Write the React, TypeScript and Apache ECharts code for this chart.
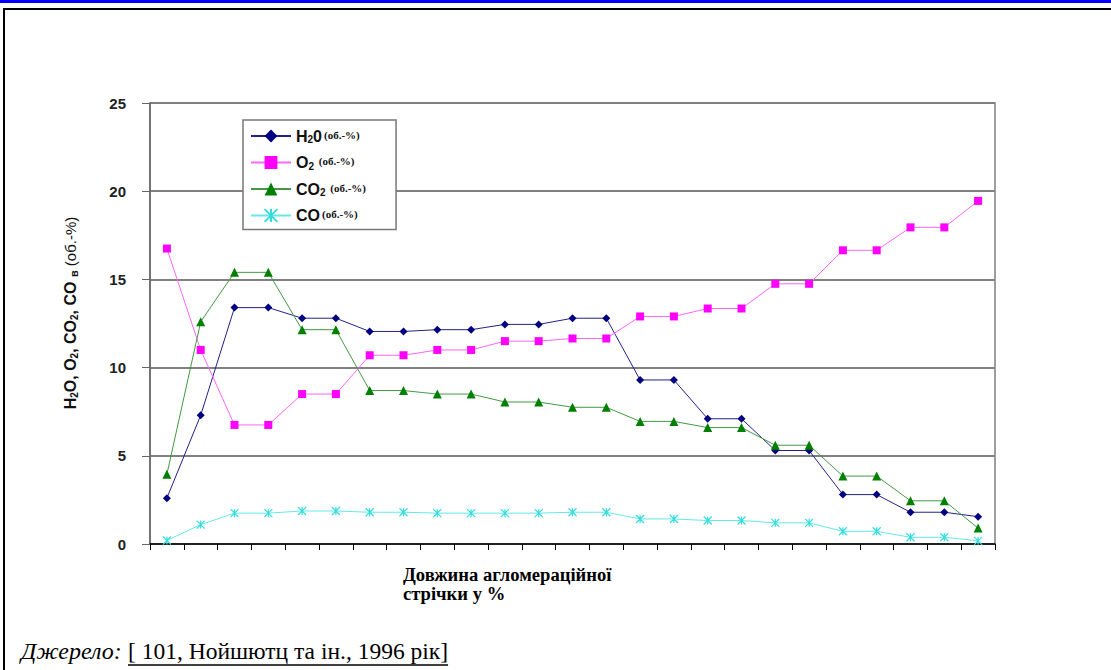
import React, { useEffect, useRef } from "react";
import * as echarts from "echarts";

const positions = ["1","2","3","4","5","6","7","8","9","10","11","12","13","14","15","16","17","18","19","20","21","22","23","24","25"];
const h2oValues = [2.6, 7.3, 13.4, 13.4, 12.8, 12.8, 12.05, 12.05, 12.15, 12.15, 12.45, 12.45, 12.8, 12.8, 9.3, 9.3, 7.1, 7.1, 5.3, 5.3, 2.8, 2.8, 1.8, 1.8, 1.55];
const o2Values = [16.75, 11.0, 6.75, 6.75, 8.5, 8.5, 10.7, 10.7, 11.0, 11.0, 11.5, 11.5, 11.65, 11.65, 12.9, 12.9, 13.35, 13.35, 14.75, 14.75, 16.65, 16.65, 17.95, 17.95, 19.45];
const co2Values = [3.95, 12.6, 15.4, 15.4, 12.15, 12.15, 8.7, 8.7, 8.5, 8.5, 8.05, 8.05, 7.75, 7.75, 6.95, 6.95, 6.6, 6.6, 5.6, 5.6, 3.85, 3.85, 2.45, 2.45, 0.9];
const coValues = [0.2, 1.1, 1.75, 1.75, 1.87, 1.87, 1.8, 1.8, 1.75, 1.75, 1.75, 1.75, 1.8, 1.8, 1.42, 1.42, 1.33, 1.33, 1.2, 1.2, 0.72, 0.72, 0.38, 0.38, 0.18];
const yTicks = { min: 0, max: 25, interval: 5 };

const legendLabels: Record<string, string> = {
  H2O: "{m|H}{s|2}{m|0}{u|(об.-%)}",
  O2: "{m|O}{s|2}{u| (об.-%)}",
  CO2: "{m|CO}{s|2}{u| (об.-%)}",
  CO: "{m|CO}{u|(об.-%)}",
};

const sourceLabel = "Джерело:";
const sourceRef = "[ 101, Нойшютц та ін., 1996 рік]";

const SERIF = "Liberation Serif, serif";
const SANS = "Liberation Sans";

export default function App() {
  const ref = useRef<HTMLDivElement>(null);
  useEffect(() => {
    if (!ref.current) return;
    const chart = echarts.init(ref.current, null, { renderer: "svg" });

    const refSize = 23.5;
    let refWidth = 314;
    try {
      const cv = document.createElement("canvas");
      const ctx = cv.getContext("2d");
      if (ctx) {
        ctx.font = `${refSize}px ${SERIF}`;
        refWidth = ctx.measureText(sourceRef).width;
      }
    } catch (e) {}

    const mkLine = (name: string, data: number[], color: string, lineColor: string, symbol: string, size: number) => ({
      name,
      type: "line",
      data,
      symbol,
      symbolSize: size,
      lineStyle: { color: lineColor, width: 1 },
      itemStyle: { color },
      emphasis: { disabled: true },
    });

    chart.setOption({
      animation: false,
      backgroundColor: "#ffffff",
      grid: {
        left: 150,
        top: 103,
        width: 845,
        height: 441,
        show: true,
        borderColor: "#808080",
        borderWidth: 1.5,
        backgroundColor: "transparent",
      },
      xAxis: {
        type: "category",
        data: positions,
        boundaryGap: true,
        axisLine: { lineStyle: { color: "#000", width: 1.5 } },
        axisTick: { show: true, interval: 0, length: 6, lineStyle: { color: "#000" } },
        axisLabel: { show: false },
        splitLine: { show: false },
      },
      yAxis: {
        type: "value",
        min: yTicks.min,
        max: yTicks.max,
        interval: yTicks.interval,
        axisLine: { show: true, lineStyle: { color: "#666", width: 1.5 } },
        axisTick: { show: true, length: 8, lineStyle: { color: "#666" } },
        axisLabel: {
          margin: 24,
          fontFamily: SANS,
          fontWeight: "bold",
          fontSize: 15,
          color: "#222",
        },
        splitLine: { lineStyle: { color: "#808080", width: 2 } },
      },
      legend: {
        orient: "vertical",
        left: 243,
        top: 120,
        width: 150,
        padding: [8, 30, 6, 7],
        itemGap: 10,
        itemWidth: 40,
        itemHeight: 16,
        backgroundColor: "#ffffff",
        borderColor: "#777",
        borderWidth: 1.5,
        borderRadius: 0,
        selectedMode: false,
        formatter: (name: string) => legendLabels[name] || name,
        textStyle: {
          rich: {
            m: { fontFamily: SANS, fontWeight: "bold", fontSize: 16, color: "#111", lineHeight: 17 },
            s: { fontFamily: SANS, fontWeight: "bold", fontSize: 10, color: "#111", verticalAlign: "bottom", lineHeight: 10 },
            u: { fontFamily: SERIF, fontWeight: "bold", fontSize: 11, color: "#111", padding: [0, 0, 3, 2] },
          },
        },
      },
      series: [
        mkLine("H2O", h2oValues, "#000080", "#222288", "diamond", 8),
        mkLine("O2", o2Values, "#ff00ff", "#ff66ff", "rect", 8),
        mkLine("CO2", co2Values, "#008000", "#449944", "triangle", 9),
        {
          name: "CO",
          type: "line",
          data: coValues,
          symbol: "path://M0,0L10,10M10,0L0,10M5,0L5,10",
          symbolSize: 8,
          lineStyle: { color: "#66e8e8", width: 1 },
          itemStyle: { color: "#33dddd", borderColor: "#33dddd", borderWidth: 1.2 },
          emphasis: { disabled: true },
        },
      ],
      graphic: [
        { type: "rect", shape: { x: 0, y: 0, width: 1111, height: 3 }, style: { fill: "#0000ff" }, silent: true },
        { type: "rect", shape: { x: 4, y: 9, width: 1200, height: 700 }, style: { fill: "none", stroke: "#000", lineWidth: 2 }, silent: true },
        {
          type: "text",
          x: 70,
          y: 313,
          rotation: Math.PI / 2,
          style: {
            text: "{a|H}{s|2}{a|O, O}{s|2}{a|, CO}{s|2}{a|, CO }{v|в}{p| (об.-%)}",
            align: "center",
            verticalAlign: "middle",
            rich: {
              a: { fontFamily: SANS, fontWeight: "bold", fontSize: 16, fill: "#111", lineHeight: 18 },
              s: { fontFamily: SANS, fontWeight: "bold", fontSize: 10, fill: "#111", verticalAlign: "bottom", lineHeight: 11 },
              v: { fontFamily: SANS, fontWeight: "bold", fontSize: 11, fill: "#111", lineHeight: 15, verticalAlign: "bottom" },
              p: { fontFamily: SANS, fontSize: 15, fill: "#111", lineHeight: 18 },
            },
          },
          silent: true,
        },
        {
          type: "text",
          x: 403,
          y: 565,
          style: {
            text: "Довжина агломераційної\nстрічки у %",
            fontFamily: SERIF,
            fontWeight: "bold",
            fontSize: 18.6,
            lineHeight: 19,
            fill: "#000",
          },
          silent: true,
        },
        {
          type: "text",
          x: 21,
          y: 651,
          style: { text: sourceLabel, fontFamily: SERIF, fontStyle: "italic", fontSize: 24, fill: "#000", verticalAlign: "middle" },
          silent: true,
        },
        {
          type: "text",
          x: 128,
          y: 651,
          style: { text: sourceRef, fontFamily: SERIF, fontSize: refSize, fill: "#000", verticalAlign: "middle" },
          silent: true,
        },
        {
          type: "line",
          shape: { x1: 128, y1: 665, x2: 128 + refWidth, y2: 665 },
          style: { stroke: "#000", lineWidth: 1.5 },
          silent: true,
        },
      ],
    });
    return () => chart.dispose();
  }, []);
  return <div ref={ref} style={{ position: "fixed", left: 0, top: 0, width: 1111, height: 670, background: "#fff" }} />;
}
